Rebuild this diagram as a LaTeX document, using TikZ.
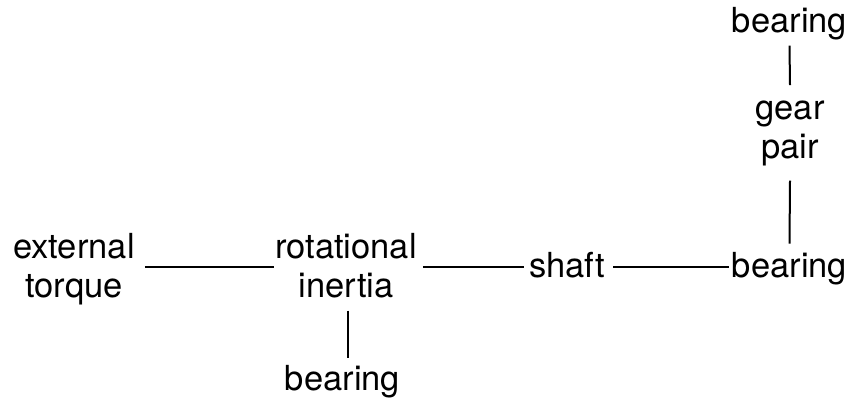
\documentclass[tikz,border=0pt]{standalone}
\usepackage{fontspec}
\setmainfont{TeX Gyre Heros}
\begin{document}
\begin{tikzpicture}[x=1pt,y=-1pt,
  txt/.style={inner sep=0pt, align=center, anchor=base,
    font=\fontsize{34.5}{39}\selectfont},
  link/.style={line width=2pt}]
\useasboundingbox (0,0) rectangle (851,400);
% component blocks (anchor = baseline of the last line)
\node[txt] (bearT) at (789.5,32) {bearing};
\node[txt] (gear)  at (790,158) {gear\\pair};
\node[txt] (bearR) at (789.5,277) {bearing};
\node[txt] (shaft) at (567,277) {shaft};
\node[txt] (rot)   at (346,297) {rotational\\inertia};
\node[txt] (ext)   at (74,297) {external\\torque};
\node[txt] (bearB) at (342.5,390) {bearing};
% drive line
\coordinate (axis) at (0,267);
\draw[link] ([xshift=10]ext.east |- axis) -- ([xshift=-1]rot.west |- axis);
\draw[link] ([xshift=6]rot.east |- axis) -- ([xshift=-5]shaft.west |- axis);
\draw[link] ([xshift=8]shaft.east |- axis) -- ([xshift=-3]bearR.west |- axis);
% supports
\draw[link] ([yshift=8]bearR.north) -- ([yshift=-15]gear.south);
\draw[link] ([yshift=15]gear.north) -- ([yshift=-6]bearT.south);
\draw[link] ([xshift=1.5,yshift=-13]rot.south) -- ([xshift=5,yshift=7]bearB.north);
\end{tikzpicture}
\end{document}
